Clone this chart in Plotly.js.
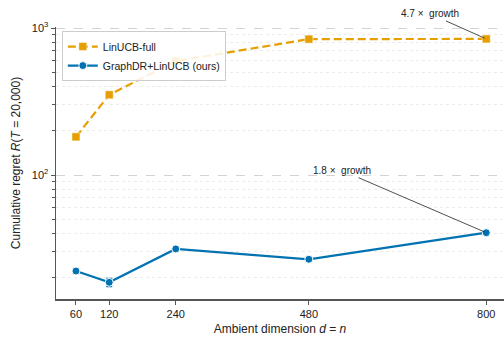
<!DOCTYPE html>
<html><head><meta charset="utf-8">
<script src="https://cdn.plot.ly/plotly-3.0.1.min.js"></script>
<style>html,body{margin:0;padding:0;background:#fff}#c{width:504px;height:339px}</style>
</head><body><div id="c"></div>
<script>
const dims = [60, 120, 240, 480, 800];
const linucbFull = [182, 352, 597, 842, 845];
const linucbFullErr = [6, 10, 12, 14, 14];
const graphdr = [22.2, 18.6, 31.4, 26.7, 40.5];
const graphdrErr = [0.5, 1.2, 0.8, 0.7, 0.6];
const majorTicks = [100, 1000];
const majorText = ['10<sup>2</sup>', '10<sup>3</sup>'];
const minorTicks = [20,30,40,50,60,70,80,90,200,300,400,500,600,700,800,900];

const orange = '#E69F00', blue = '#0072B2';
const font = 'Liberation Sans, Arial, Helvetica, sans-serif';

const traces = [
  {x: dims, y: linucbFull, name: 'LinUCB-full', type: 'scatter', mode: 'lines+markers',
   line: {color: orange, width: 2.2, dash: '8px,4px'},
   marker: {symbol: 'square', size: 8, color: orange, line: {color: '#fff', width: 0.5}},
   error_y: {type: 'data', array: linucbFullErr, color: orange, thickness: 1.2, width: 3}},
  {x: dims, y: graphdr, name: 'GraphDR+LinUCB (ours)', type: 'scatter', mode: 'lines+markers',
   line: {color: blue, width: 2.2},
   marker: {symbol: 'circle', size: 8, color: blue, line: {color: '#fff', width: 1}},
   error_y: {type: 'data', array: graphdrErr, color: blue, thickness: 1.2, width: 3}}
];

const layout = {
  width: 504, height: 339,
  margin: {l: 56, r: 0, t: 27, b: 40},
  paper_bgcolor: '#fff', plot_bgcolor: '#fff',
  font: {family: font, size: 11, color: '#222'},
  showlegend: true,
  legend: {x: 0.013, y: 0.985, xanchor: 'left', yanchor: 'top',
    bgcolor: 'rgba(255,255,255,0.85)', bordercolor: '#ccc', borderwidth: 1,
    font: {size: 10.5, family: font}, tracegroupgap: 0},
  xaxis: {
    range: [24, 832], tickvals: dims, ticktext: dims.map(String),
    showgrid: false, zeroline: false,
    showline: true, linecolor: '#555', linewidth: 1.5,
    ticks: 'outside', ticklen: 4, tickcolor: '#555',
    tickfont: {size: 11},
    title: {text: 'Ambient dimension <i>d</i> = <i>n</i>', font: {size: 12}, standoff: 6}
  },
  yaxis: {
    type: 'log', range: [1.156, 3.008],
    tickmode: 'array', tickvals: majorTicks, ticktext: majorText,
    showgrid: true, gridcolor: '#c8c8c8', griddash: 'dash', gridwidth: 0.8,
    zeroline: false, showline: true, linecolor: '#555', linewidth: 1.5,
    ticks: 'outside', ticklen: 4, tickcolor: '#555',
    tickfont: {size: 11},
    minor: {tickmode: 'array', tickvals: minorTicks, ticks: 'outside', ticklen: 2.5, tickcolor: '#555',
      showgrid: true, gridcolor: '#e6e6e6', griddash: 'dot', gridwidth: 0.8},
    title: {text: 'Cumulative regret <i>R</i>(<i>T</i> = 20,000)', font: {size: 12}, standoff: 8}
  },
  annotations: [
    {x: dims[4], y: Math.log10(linucbFull[4]), xref: 'x', yref: 'y',
     text: '4.7 ×  growth', showarrow: true, arrowhead: 0, arrowwidth: 0.8, arrowcolor: '#222',
     ax: -56, ay: -25, font: {size: 10, family: font, color: '#222'}, standoff: 2},
    {x: dims[4], y: Math.log10(graphdr[4]), xref: 'x', yref: 'y',
     text: '1.8 ×  growth', showarrow: true, arrowhead: 0, arrowwidth: 0.8, arrowcolor: '#222',
     ax: -144, ay: -62, font: {size: 10, family: font, color: '#222'}, standoff: 2}
  ]
};
Plotly.newPlot('c', traces, layout, {displayModeBar: false, staticPlot: true});
</script></body></html>
